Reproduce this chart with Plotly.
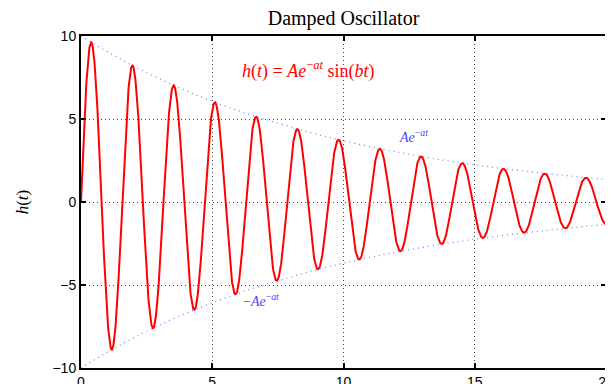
import numpy as np
import plotly.graph_objects as go

# Parameters: h(t) = A e^{-a t} sin(b t)
A = 10.0
a = 0.1
b = 4.0
t_range = [0, 20]
x_ticks = [0, 5, 10, 15, 20]
y_ticks = [-10, -5, 0, 5, 10]

t = np.linspace(t_range[0], t_range[1], 2001)
env = A * np.exp(-a * t)
h = env * np.sin(b * t)

serif = "Liberation Serif, Times New Roman, serif"
sans = "Liberation Sans, Arial, sans-serif"

fig = go.Figure()
fig.add_trace(go.Scatter(x=t, y=env, mode="lines",
                         line=dict(color="#8080ff", width=1.3, dash="1px,4px"), hoverinfo="skip"))
fig.add_trace(go.Scatter(x=t, y=-env, mode="lines",
                         line=dict(color="#8080ff", width=1.3, dash="1px,4px"), hoverinfo="skip"))
fig.add_trace(go.Scatter(x=t, y=h, mode="lines",
                         line=dict(color="#ff0000", width=2)))

fig.add_annotation(x=0.434, y=0.898, xref="paper", yref="paper",
                   text="<i>h</i>(<i>t</i>) = <i>Ae</i><sup>−<i>at</i></sup> sin(<i>bt</i>)",
                   showarrow=False, font=dict(family=serif, size=18, color="#ff0000"),
                   xanchor="center", yanchor="middle")
fig.add_annotation(x=0.634, y=0.70, xref="paper", yref="paper",
                   text="<i>Ae</i><sup>−<i>at</i></sup>",
                   showarrow=False, font=dict(family=serif, size=14, color="#4444ff"),
                   xanchor="center", yanchor="middle")
fig.add_annotation(x=0.343, y=0.205, xref="paper", yref="paper",
                   text="−<i>Ae</i><sup>−<i>at</i></sup>",
                   showarrow=False, font=dict(family=serif, size=14, color="#4444ff"),
                   xanchor="center", yanchor="middle")

axis_common = dict(showline=True, linecolor="black", linewidth=2, mirror="ticks",
                   ticks="inside", ticklen=5, tickwidth=1.5, tickcolor="black",
                   showgrid=True, gridcolor="#444444", gridwidth=1, griddash="1px,3px",
                   zeroline=False, automargin=False,
                   tickfont=dict(family=sans, size=14, color="black"))

fig.update_xaxes(range=t_range, tickvals=x_ticks, **axis_common)
fig.update_yaxes(range=[-10, 10], tickvals=y_ticks, **axis_common,
                 title=dict(text="<i>h</i>(<i>t</i>)", font=dict(family=serif, size=17, color="black"),
                            standoff=20))

# the page body adds an 8px offset; margins compensate so the plot box lands where the reference has it
fig.update_layout(
    width=613, height=384,
    margin=dict(l=73, r=15, t=28, b=24),
    paper_bgcolor="white", plot_bgcolor="white",
    showlegend=False,
    title=dict(text="Damped Oscillator", xref="paper", x=0.5, xanchor="center",
               y=0.974, yanchor="middle",
               font=dict(family=serif, size=20, color="black"), automargin=False),
)

fig.write_html("out.html")
